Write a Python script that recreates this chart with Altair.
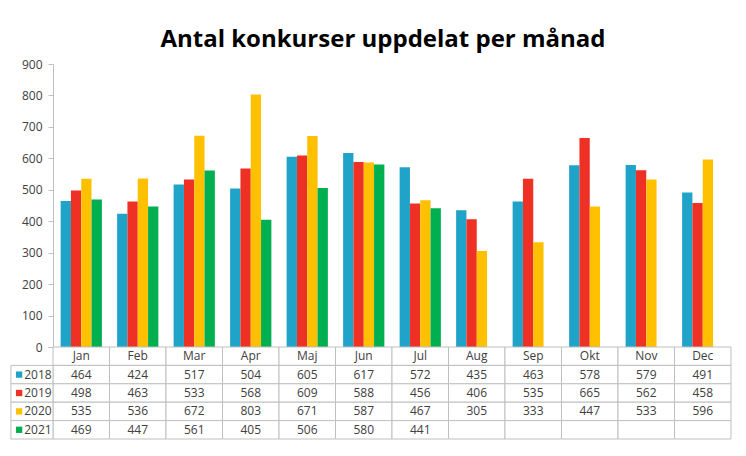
import altair as alt
import pandas as pd

months = ["Jan", "Feb", "Mar", "Apr", "Maj", "Jun", "Jul", "Aug", "Sep", "Okt", "Nov", "Dec"]
years = ["2018", "2019", "2020", "2021"]
colors = ["#1FA3C8", "#EE3124", "#FFC000", "#00B050"]

v2018 = [464, 424, 517, 504, 605, 617, 572, 435, 463, 578, 579, 491]
v2019 = [498, 463, 533, 568, 609, 588, 456, 406, 535, 665, 562, 458]
v2020 = [535, 536, 672, 803, 671, 587, 467, 305, 333, 447, 533, 596]
v2021 = [469, 447, 561, 405, 506, 580, 441, None, None, None, None, None]

series = {"2018": v2018, "2019": v2019, "2020": v2020, "2021": v2021}

FONT = "Open Sans"
TXT = "#404040"
GRID = "#BFBFBF"

# ---- bar data
bar_rows = []
for y in years:
    for m, v in zip(months, series[y]):
        if v is not None:
            bar_rows.append({"month": m, "year": y, "value": v})
bars_df = pd.DataFrame(bar_rows)

bars = alt.Chart(bars_df).mark_bar().encode(
    x=alt.X("month:N", sort=months, axis=None,
            scale=alt.Scale(paddingInner=0.27, paddingOuter=0.135)),
    xOffset=alt.XOffset("year:N", sort=years, scale=alt.Scale(paddingInner=0, paddingOuter=0)),
    y=alt.Y("value:Q", scale=alt.Scale(domain=[0, 900], nice=False),
            axis=alt.Axis(values=list(range(0, 901, 100)), title=None, grid=False,
                          domainColor=GRID, tickColor=GRID, tickSize=5,
                          labelColor=TXT, labelFont=FONT, labelFontSize=12, labelPadding=6)),
    color=alt.Color("year:N", sort=years, scale=alt.Scale(domain=years, range=colors), legend=None),
).properties(width=678, height=283)

# ---- table data
row_order = ["hdr"] + years
cells = []
for i, m in enumerate(months):
    cells.append({"row": "hdr", "x0": i, "x1": i + 1, "xc": i + 0.5, "txt": m})
    for y in years:
        v = series[y][i]
        cells.append({"row": y, "x0": i, "x1": i + 1, "xc": i + 0.5,
                      "txt": "" if v is None else str(v)})
cells_df = pd.DataFrame(cells)

label_df = pd.DataFrame({
    "row": years,
    "x0": [-0.745] * 4,
    "x1": [0] * 4,
    "xs": [-0.6] * 4,
    "xt": [-0.51] * 4,
    "txt": years,
})

xq = alt.Scale(domain=[0, 12], nice=False, zero=False)
yb = alt.Scale(domain=row_order, paddingInner=0, paddingOuter=0)

cell_rect = alt.Chart(cells_df).mark_rect(fill="white", stroke=GRID, strokeWidth=1).encode(
    x=alt.X("x0:Q", scale=xq, axis=None), x2="x1:Q",
    y=alt.Y("row:N", sort=row_order, scale=yb, axis=None),
)
cell_text = alt.Chart(cells_df).mark_text(font=FONT, fontSize=12, color=TXT).encode(
    x=alt.X("xc:Q", scale=xq, axis=None),
    y=alt.Y("row:N", sort=row_order, scale=yb, axis=None),
    text="txt:N",
)
lab_rect = alt.Chart(label_df).mark_rect(fill="white", stroke=GRID, strokeWidth=1).encode(
    x=alt.X("x0:Q", scale=xq, axis=None), x2="x1:Q",
    y=alt.Y("row:N", sort=row_order, scale=yb, axis=None),
)
lab_sq = alt.Chart(label_df).mark_square(size=40, opacity=1).encode(
    x=alt.X("xs:Q", scale=xq, axis=None),
    y=alt.Y("row:N", sort=row_order, scale=yb, axis=None),
    color=alt.Color("row:N", scale=alt.Scale(domain=years, range=colors), legend=None),
)
lab_txt = alt.Chart(label_df).mark_text(font=FONT, fontSize=12, color=TXT, align="left").encode(
    x=alt.X("xt:Q", scale=xq, axis=None),
    y=alt.Y("row:N", sort=row_order, scale=yb, axis=None),
    text="txt:N",
)

table = alt.layer(cell_rect, lab_rect, cell_text, lab_sq, lab_txt).properties(width=678, height=92)

chart = alt.vconcat(bars, table, spacing=0, bounds="flush").properties(
    title=alt.TitleParams("Antal konkurser uppdelat per månad", font=FONT, fontSize=24,
                          fontWeight="bold", color="#000000", anchor="middle", offset=6, dx=12),
    padding={"left": 2, "top": 20, "right": 5, "bottom": 5},
).configure_view(stroke=None).resolve_scale(color="independent")

chart.save("out.html", embed_options={"renderer": "svg", "actions": False})
